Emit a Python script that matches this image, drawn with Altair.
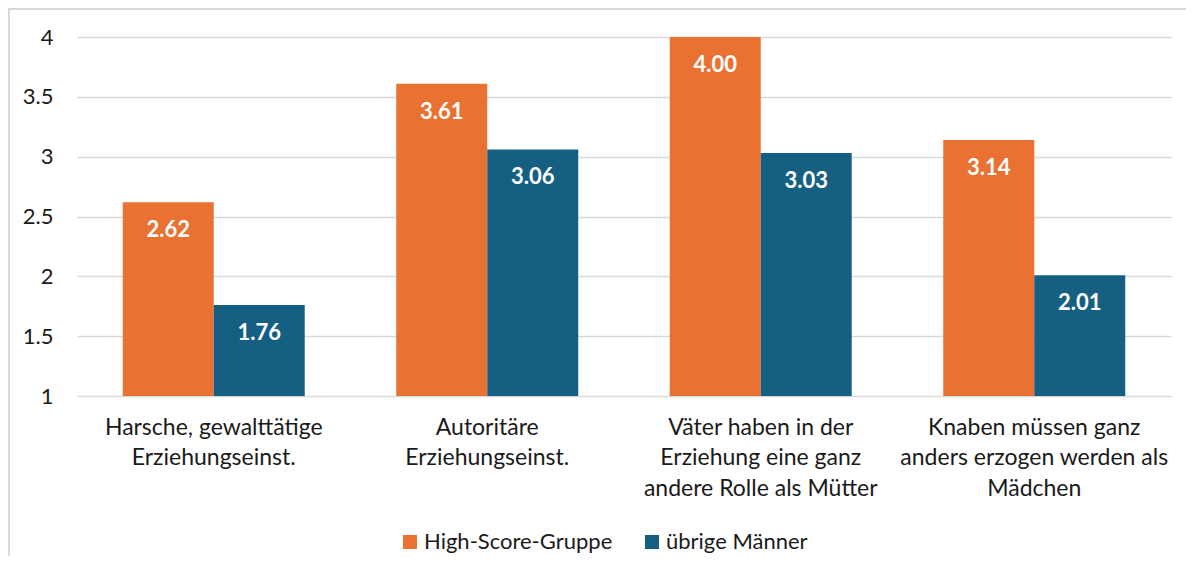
import altair as alt
import pandas as pd

categories = [
    "Harsche, gewalttätige|Erziehungseinst.",
    "Autoritäre|Erziehungseinst.",
    "Väter haben in der|Erziehung eine ganz|andere Rolle als Mütter",
    "Knaben müssen ganz|anders erzogen werden als|Mädchen",
]
series = ["High-Score-Gruppe", "übrige Männer"]
high_score = [2.62, 3.61, 4.00, 3.14]
other_men = [1.76, 3.06, 3.03, 2.01]
y_ticks = [1, 1.5, 2, 2.5, 3, 3.5, 4]
colors = ["#E97132", "#156082"]

rows = []
for c, h, o in zip(categories, high_score, other_men):
    rows.append({"cat": c, "series": series[0], "value": h})
    rows.append({"cat": c, "series": series[1], "value": o})
df = pd.DataFrame(rows)

FONT = "Lato"
TXT = "#1a1a1a"

base = alt.Chart(df).encode(
    x=alt.X(
        "cat:N",
        sort=categories,
        scale=alt.Scale(paddingInner=0.3346, paddingOuter=0.1673),
        axis=alt.Axis(
            title=None,
            labelExpr="split(datum.label, '|')",
            labelAngle=0,
            ticks=False,
            domain=False,
            labelFont=FONT,
            labelFontSize=23,
            labelLineHeight=30.5,
            labelPadding=20,
            labelBaseline="top",
            labelColor=TXT,
            labelLimit=400,
        ),
    ),
    xOffset=alt.XOffset("series:N", sort=series, scale=alt.Scale(paddingInner=0, paddingOuter=0)),
)

bars = base.mark_bar().encode(
    y=alt.Y(
        "value:Q",
        scale=alt.Scale(domain=[1, 4], nice=False, zero=False),
        axis=alt.Axis(
            title=None,
            values=y_ticks,
            format="~g",
            ticks=False,
            domain=False,
            gridColor="#d9d9d9",
            gridWidth=1.5,
            labelFont=FONT,
            labelFontSize=22,
            labelColor=TXT,
            labelPadding=24,
        ),
    ),
    y2=alt.datum(1),
    color=alt.Color(
        "series:N",
        sort=series,
        scale=alt.Scale(domain=series, range=colors),
        legend=alt.Legend(
            title=None,
            orient="none",
            legendX=322,
            legendY=494,
            direction="horizontal",
            symbolType="square",
            symbolSize=196,
            symbolStrokeWidth=0,
            labelFont=FONT,
            labelFontSize=22,
            labelColor=TXT,
            labelOffset=3,
            labelLimit=400,
            columnPadding=28,
        ),
    ),
)

labels = base.mark_text(
    color="white", fontWeight="bold", font=FONT, fontSize=22, baseline="middle", dy=28
).encode(
    y=alt.Y("value:Q"),
    text=alt.Text("value:Q", format=".2f"),
)

frame_df = pd.DataFrame({"a": [0]})
frame_left = alt.Chart(frame_df).mark_rule(color="#d9d9d9", strokeWidth=2).encode(
    x=alt.value(-68), y=alt.value(-29), y2=alt.value(600)
)
frame_top = alt.Chart(frame_df).mark_rule(color="#d9d9d9", strokeWidth=2).encode(
    x=alt.value(-68), x2=alt.value(1200), y=alt.value(-28)
)

chart = (
    alt.layer(bars, labels, frame_left, frame_top)
    .properties(
        width=1094,
        height=359,
        autosize=alt.AutoSizeParams(type="none"),
        padding={"left": 69, "top": 29, "right": 15, "bottom": 160},
    )
    .configure_view(strokeWidth=0)
)

chart.save("out.html", embed_options={"renderer": "svg", "actions": False})
